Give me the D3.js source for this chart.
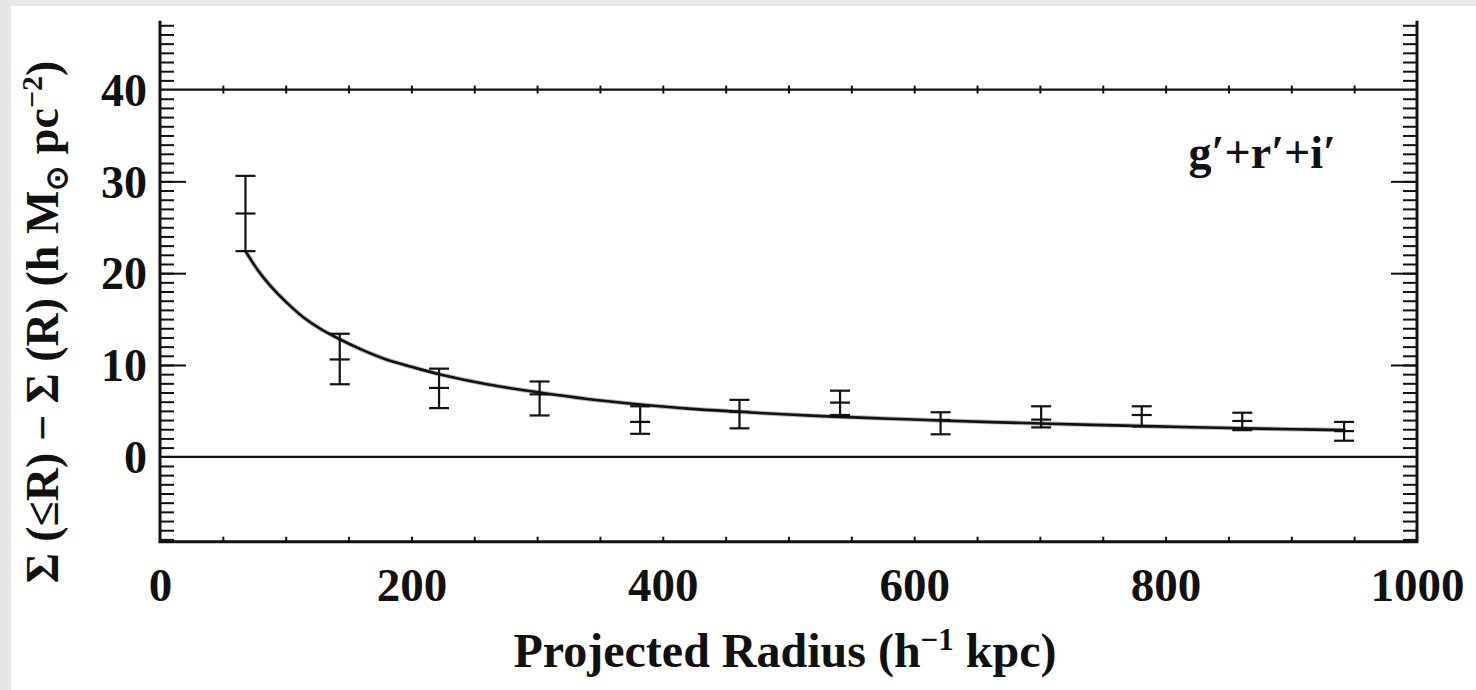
<!DOCTYPE html>
<html>
<head>
<meta charset="utf-8">
<script src="https://cdn.jsdelivr.net/npm/d3@7/dist/d3.min.js"></script>
<style>
  html, body { margin: 0; padding: 0; background: #ffffff; }
  svg { display: block; }
  text { font-family: "Liberation Serif", "Times New Roman", serif; font-weight: bold; fill: #111; }
</style>
</head>
<body>
<svg id="chart" width="1476" height="690"></svg>
<script>
// Measured excess surface density profile (binned)
const radius   = [68, 143, 222, 302, 382, 461, 541, 621, 701, 781, 861, 942];
const sigma    = [26.5, 10.6, 7.5, 6.8, 3.8, 4.9, 5.9, 4.0, 4.05, 4.55, 3.9, 2.8];
const sigmaLo  = [22.4, 7.9, 5.3, 4.5, 2.5, 3.1, 4.55, 2.45, 3.2, 3.3, 2.9, 1.75];
const sigmaHi  = [30.6, 13.4, 9.6, 8.2, 5.5, 6.2, 7.2, 4.85, 5.5, 5.5, 4.8, 3.8];

// Best-fit model profile
const modelR     = [68, 78, 88, 100, 114, 128, 143, 160, 180, 200, 222, 260, 302, 340, 382, 420, 461, 500, 541, 581, 621, 661, 701, 741, 781, 821, 861, 901, 943];
const modelSigma = [22.4, 20.3, 18.6, 16.9, 15.2, 13.9, 12.8, 11.7, 10.6, 9.8, 9.0, 7.9, 7.0, 6.3, 5.7, 5.25, 4.9, 4.6, 4.35, 4.15, 3.95, 3.78, 3.62, 3.48, 3.35, 3.22, 3.1, 3.0, 2.9];

// Axis tick values and labels
const xLabelTicks = [0, 200, 400, 600, 800, 1000];
const yLabelTicks = [0, 10, 20, 30, 40];
const yMajorTicks = [10, 20, 30];
const bandLabel = "g′+r′+i′";

const svg = d3.select("#chart");
const W = 1476, H = 690;

// page background with light grey margins
svg.append("rect").attr("width", W).attr("height", H).attr("fill", "#ffffff");
svg.append("rect").attr("x", 0).attr("y", 0).attr("width", 11).attr("height", H).attr("fill", "#e6e6e6");
svg.append("rect").attr("x", 0).attr("y", 0).attr("width", W).attr("height", 6).attr("fill", "#e6e6e6");

const plotLeft = 160, plotRight = 1417, plotTop = 20.7, plotBottom = 541.7;
const x = d3.scaleLinear().domain([0, 1000]).range([plotLeft, plotRight]);
const y = d3.scaleLinear().domain([-9.25, 47.5]).range([plotBottom, plotTop]);

const ink = "#111";

// minor / major y ticks on both sides
const yMinor = d3.range(-9, 48, 1).filter(v => v !== 0 && v !== 40);
function drawYTicks(axisFn, xpos, vals, size) {
  const g = svg.append("g").attr("transform", `translate(${xpos},0)`)
    .call(axisFn(y).tickValues(vals).tickSize(size).tickFormat(""));
  g.select(".domain").remove();
  g.selectAll("line").attr("stroke", ink).attr("stroke-width", 2);
}
drawYTicks(d3.axisRight, plotLeft, yMinor, 14);
drawYTicks(d3.axisRight, plotLeft, yMajorTicks, 26);
drawYTicks(d3.axisLeft, plotRight, yMinor, 14);
drawYTicks(d3.axisLeft, plotRight, yMajorTicks, 26);

// x ticks along bottom axis
const xMinor = d3.range(50, 1000, 50);
function drawXTicks(vals, size) {
  const g = svg.append("g").attr("transform", `translate(0,${plotBottom})`)
    .call(d3.axisTop(x).tickValues(vals).tickSize(size).tickFormat(""));
  g.select(".domain").remove();
  g.selectAll("line").attr("stroke", ink).attr("stroke-width", 2);
}
drawXTicks(xMinor, 5);

// reference lines at 0 and 40
[0, 40].forEach(v => {
  svg.append("line")
    .attr("x1", plotLeft).attr("x2", plotRight)
    .attr("y1", y(v)).attr("y2", y(v))
    .attr("stroke", ink).attr("stroke-width", 2.2);
});
// small crossing ticks on the 40 line
{
  const g = svg.append("g").attr("transform", `translate(0,${y(40) - 4})`)
    .call(d3.axisBottom(x).tickValues(xMinor).tickSize(8).tickFormat(""));
  g.select(".domain").remove();
  g.selectAll("line").attr("stroke", ink).attr("stroke-width", 2);
}

// frame: left, right, bottom
svg.append("path")
  .attr("d", `M${plotLeft},${plotTop}V${plotBottom}H${plotRight}V${plotTop}`)
  .attr("fill", "none").attr("stroke", ink).attr("stroke-width", 3);

// tick labels
const yl = svg.append("g").attr("transform", `translate(${plotLeft},0)`)
  .call(d3.axisLeft(y).tickValues(yLabelTicks).tickSize(0).tickPadding(13).tickFormat(d3.format("d")));
yl.select(".domain").remove();
yl.selectAll("text").attr("font-size", 46).attr("fill", ink).attr("dy", "0.34em")
  .style("font-family", "'Liberation Serif', serif").style("font-weight", "bold");

const xl = svg.append("g").attr("transform", `translate(0,${plotBottom})`)
  .call(d3.axisBottom(x).tickValues(xLabelTicks).tickSize(0).tickPadding(26).tickFormat(d3.format("d")));
xl.select(".domain").remove();
xl.selectAll("text").attr("font-size", 47).attr("fill", ink)
  .style("font-family", "'Liberation Serif', serif").style("font-weight", "bold");

// model curve
const line = d3.line().x(d => x(d[0])).y(d => y(d[1])).curve(d3.curveCatmullRom.alpha(0.5));
const modelPts = modelR.map((r, i) => [r, modelSigma[i]]);
svg.append("path").datum(modelPts).attr("d", line)
  .attr("fill", "none").attr("stroke", "#777").attr("stroke-width", 4.5).attr("opacity", 0.5);
svg.append("path").datum(modelPts).attr("d", line)
  .attr("fill", "none").attr("stroke", ink).attr("stroke-width", 2.6);

// error bars
const capW = 10;
const eb = svg.append("g").attr("stroke", ink).attr("stroke-width", 2.2);
radius.forEach((r, i) => {
  const cx = x(r);
  eb.append("line").attr("x1", cx).attr("x2", cx).attr("y1", y(sigmaLo[i])).attr("y2", y(sigmaHi[i]));
  eb.append("line").attr("x1", cx - capW).attr("x2", cx + capW).attr("y1", y(sigmaLo[i])).attr("y2", y(sigmaLo[i]));
  eb.append("line").attr("x1", cx - capW).attr("x2", cx + capW).attr("y1", y(sigmaHi[i])).attr("y2", y(sigmaHi[i]));
  eb.append("line").attr("x1", cx - capW).attr("x2", cx + capW).attr("y1", y(sigma[i])).attr("y2", y(sigma[i]));
});

// band label
svg.append("text").attr("x", 1336).attr("y", 168).attr("text-anchor", "end")
  .attr("font-size", 46).text(bandLabel);

// x axis title
const xt = svg.append("text").attr("x", 785).attr("y", 667).attr("text-anchor", "middle").attr("font-size", 48);
xt.append("tspan").text("Projected Radius (h");
xt.append("tspan").attr("dy", -17).attr("font-size", 31).text("−1");
xt.append("tspan").attr("dy", 17).text(" kpc)");

// y axis title
const yt = svg.append("text").attr("transform", `translate(58,322) rotate(-90)`)
  .attr("text-anchor", "middle").attr("font-size", 46);
yt.append("tspan").text("Σ (≤R) − Σ (R) (h M");
yt.append("tspan").attr("dy", 9).attr("font-size", 30).text("⊙");
yt.append("tspan").attr("dy", -9).text(" pc");
yt.append("tspan").attr("dy", -16).attr("font-size", 30).text("−2");
yt.append("tspan").attr("dy", 16).text(")");
</script>
</body>
</html>
